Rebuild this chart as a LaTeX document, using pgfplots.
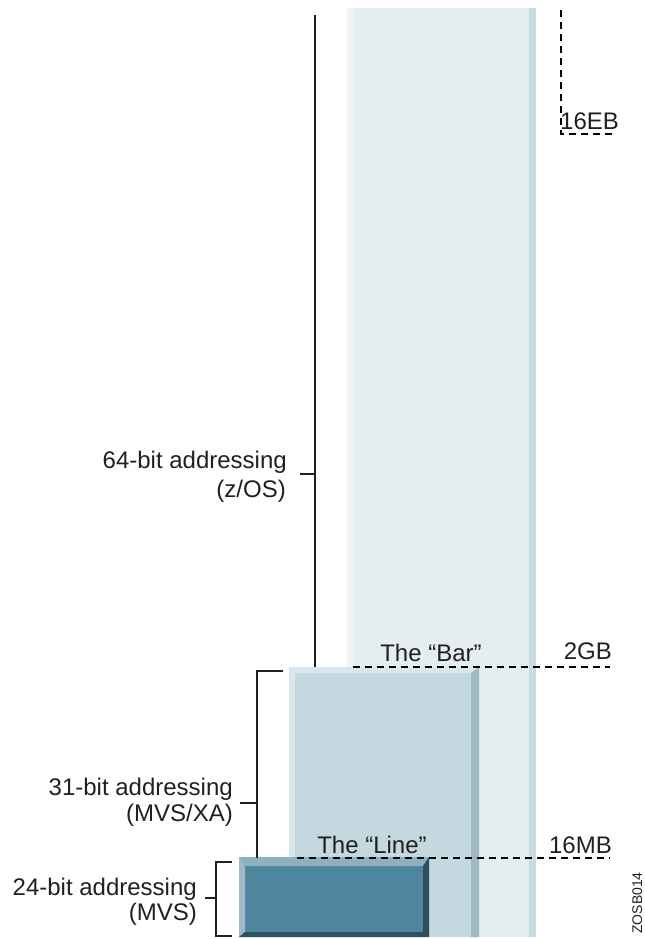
\documentclass[border=0pt]{standalone}
\usepackage{pgfplots}
\pgfplotsset{compat=1.18}
\usepackage{fontspec}
\setmainfont{Liberation Sans}

\definecolor{txt}{HTML}{231F20}
% 64-bit space
\definecolor{bigmain}{HTML}{E4EDF0}
\definecolor{bigleft}{HTML}{EEF4F6}
\definecolor{bigright}{HTML}{C8DBE1}
% 31-bit space
\definecolor{midmain}{HTML}{C4D8DF}
\definecolor{midlight}{HTML}{D9E6EB}
\definecolor{midright}{HTML}{A0B9C6}
% 24-bit space
\definecolor{lowmain}{HTML}{4F869E}
\definecolor{lowtop}{HTML}{8FB1BE}
\definecolor{lowleft}{HTML}{9DBBC7}
\definecolor{lowright}{HTML}{2A4E5E}
\definecolor{lowbottom}{HTML}{2D5264}

\tikzset{lbl/.style={font=\fontsize{24bp}{28bp}\selectfont, text=txt, inner sep=0pt}}

\begin{document}
\begin{tikzpicture}
\begin{axis}[
  scale only axis,
  width=645bp, height=939bp,
  xmin=0, xmax=645, ymin=0, ymax=939,
  y dir=reverse,
  hide axis,
  clip=false,
]
\coordinate (bl) at (rel axis cs:0,0);
\coordinate (tr) at (rel axis cs:1,1);

% --- 64-bit address space (up to 16EB)
\addplot[fill=bigmain, draw=none] coordinates {(347,8) (536,8) (536,937) (347,937)} --cycle;
\addplot[fill=bigleft, draw=none] coordinates {(347,8) (353,8) (353,937) (347,937)} --cycle;
\addplot[fill=bigright, draw=none] coordinates {(529,8) (536,8) (536,937) (529,937)} --cycle;

% --- 31-bit address space (up to 2GB)
\addplot[fill=midmain, draw=none] coordinates {(289,667) (479,667) (479,937) (289,937)} --cycle;
\addplot[fill=midlight, draw=none] coordinates {(289,667) (479,667) (471,673) (295,673) (295,937) (289,937)} --cycle;
\addplot[fill=midright, draw=none] coordinates {(479,667) (479,937) (471,937) (471,673)} --cycle;

% --- 24-bit address space (up to 16MB)
\addplot[fill=lowmain, draw=none] coordinates {(239,857) (429,857) (429,937) (239,937)} --cycle;
\addplot[fill=lowtop, draw=none] coordinates {(239,857) (429,857) (423,866) (245,866)} --cycle;
\addplot[fill=lowleft, draw=none] coordinates {(239,857) (245,866) (245,932) (239,937)} --cycle;
\addplot[fill=lowright, draw=none] coordinates {(429,857) (429,937) (423,932) (423,866)} --cycle;
\addplot[fill=lowbottom, draw=none] coordinates {(239,937) (429,937) (423,932) (245,932)} --cycle;

% --- dashed limits
\addplot[black, line width=2.5bp, dash pattern=on 7bp off 5bp] coordinates {(353,667) (610,667)};
\addplot[black, line width=2.5bp, dash pattern=on 7bp off 5bp] coordinates {(297,858) (610,858)};
\addplot[black, line width=2.5bp, dash pattern=on 7bp off 5bp] coordinates {(561,10) (561,134) (614,134)};

% --- brackets
\addplot[txt, line width=2.5bp] coordinates {(315,15) (315,667)};
\addplot[txt, line width=2.5bp] coordinates {(300,474) (315,474)};
\addplot[txt, line width=2.5bp] coordinates {(283,671) (257,671) (257,858)};
\addplot[txt, line width=2.5bp] coordinates {(240,803) (257,803)};
\addplot[txt, line width=2.5bp] coordinates {(232,862) (216,862) (216,936) (232,936)};
\addplot[txt, line width=2.5bp] coordinates {(205,898) (216,898)};

% --- labels
\node[lbl, anchor=base east] at (axis cs:287,468) {64-bit addressing};
\node[lbl, anchor=base east] at (axis cs:286,497) {(z/OS)};
\node[lbl, anchor=base east] at (axis cs:233,795) {31-bit addressing};
\node[lbl, anchor=base east] at (axis cs:233,821) {(MVS/XA)};
\node[lbl, anchor=base east] at (axis cs:197,895) {24-bit addressing};
\node[lbl, anchor=base east] at (axis cs:197,920) {(MVS)};

\node[lbl, anchor=base] at (axis cs:431,661) {The “Bar”};
\node[lbl, anchor=base east] at (axis cs:612,659) {2GB};
\node[lbl, anchor=base] at (axis cs:372,853) {The “Line”};
\node[lbl, anchor=base east] at (axis cs:612,853) {16MB};
\node[lbl, anchor=base west] at (axis cs:560,130) {16EB};

\node[lbl, anchor=base, rotate=90, font=\fontsize{14bp}{16bp}\selectfont] at (axis cs:642,903) {ZOSB014};
\end{axis}
\pgfresetboundingbox
\path (bl) rectangle (tr);
\end{tikzpicture}
\end{document}
